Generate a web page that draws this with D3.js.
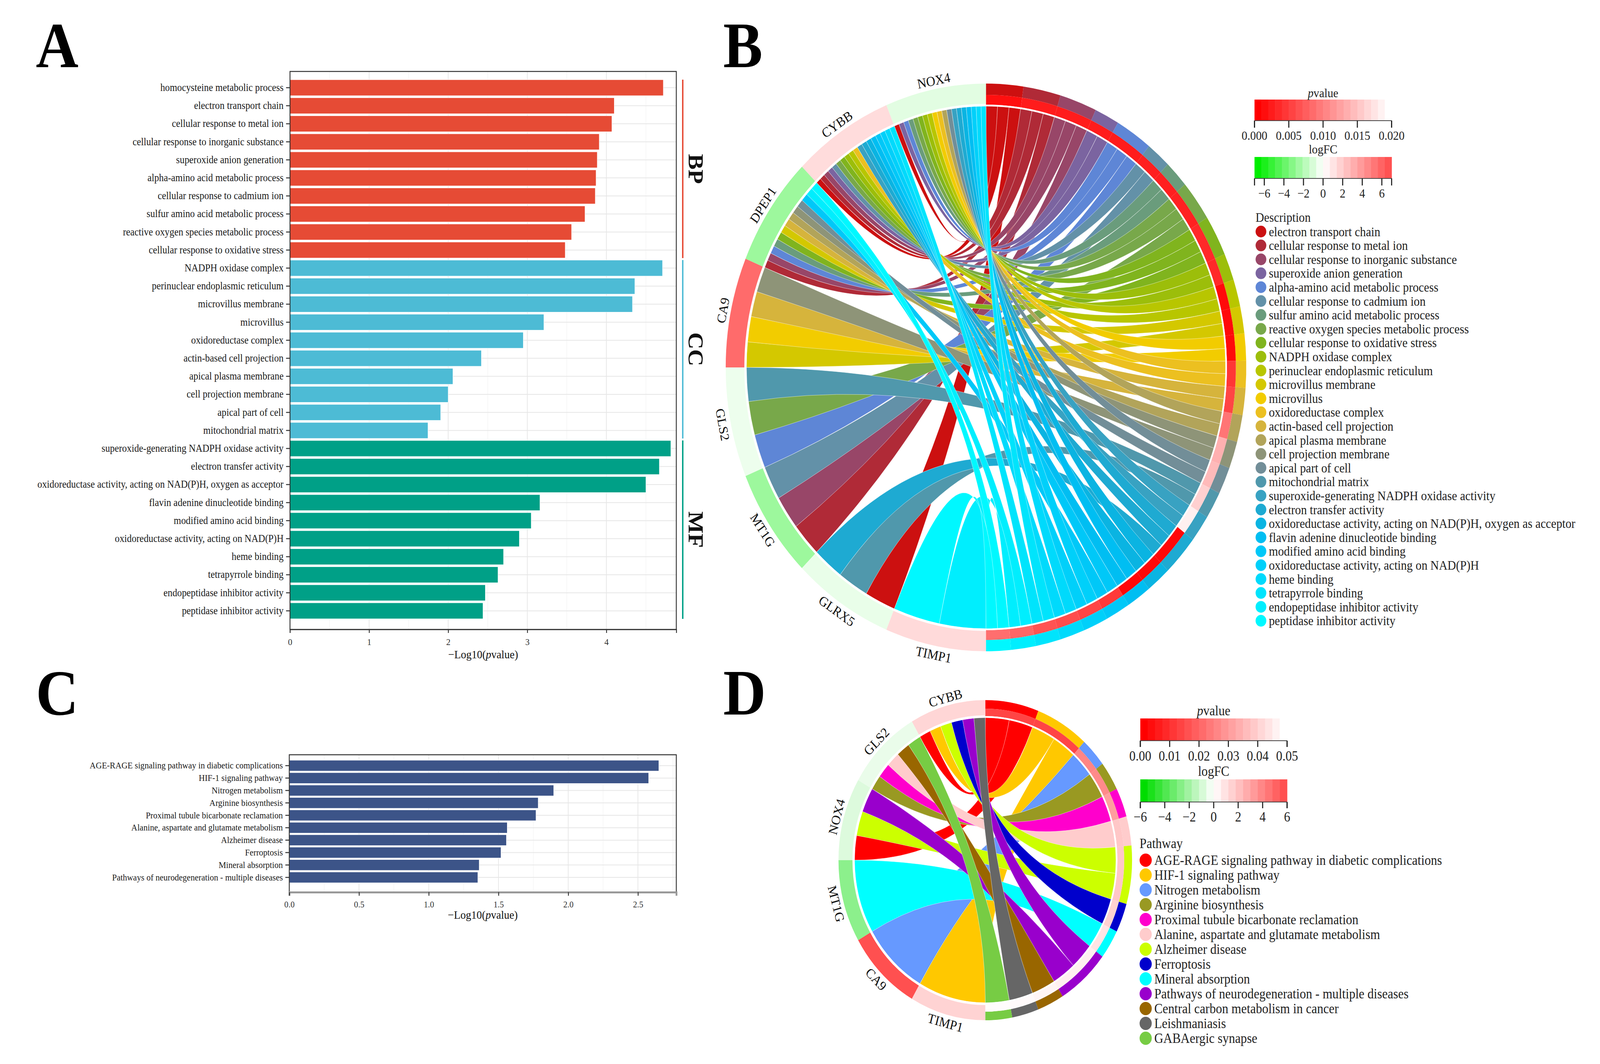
<!DOCTYPE html>
<html>
<head>
<meta charset="utf-8">
<script src="https://cdn.jsdelivr.net/npm/d3@7"></script>
<style>
  html, body { margin: 0; padding: 0; background: #fff; overflow: hidden; }
  svg { display: block; width: 100vw; height: 100vh; }
</style>
</head>
<body>
<svg id="fig" viewBox="0 0 4469 2725" preserveAspectRatio="none"></svg>
<script>
// ---- panel A : GO enrichment bars ----
var goTerms = [
  "homocysteine metabolic process", "electron transport chain", "cellular response to metal ion",
  "cellular response to inorganic substance", "superoxide anion generation", "alpha-amino acid metabolic process",
  "cellular response to cadmium ion", "sulfur amino acid metabolic process", "reactive oxygen species metabolic process",
  "cellular response to oxidative stress", "NADPH oxidase complex", "perinuclear endoplasmic reticulum",
  "microvillus membrane", "microvillus", "oxidoreductase complex", "actin-based cell projection",
  "apical plasma membrane", "cell projection membrane", "apical part of cell", "mitochondrial matrix",
  "superoxide-generating NADPH oxidase activity", "electron transfer activity",
  "oxidoreductase activity, acting on NAD(P)H, oxygen as acceptor", "flavin adenine dinucleotide binding",
  "modified amino acid binding", "oxidoreductase activity, acting on NAD(P)H", "heme binding",
  "tetrapyrrole binding", "endopeptidase inhibitor activity", "peptidase inhibitor activity"
];
var goLog10P = [4.72, 4.10, 4.07, 3.91, 3.885, 3.87, 3.86, 3.73, 3.56, 3.48,
                4.71, 4.36, 4.33, 3.21, 2.95, 2.42, 2.06, 2.00, 1.905, 1.745,
                4.815, 4.67, 4.50, 3.16, 3.05, 2.90, 2.70, 2.63, 2.47, 2.44];
var goOntology = ["BP","BP","BP","BP","BP","BP","BP","BP","BP","BP",
                  "CC","CC","CC","CC","CC","CC","CC","CC","CC","CC",
                  "MF","MF","MF","MF","MF","MF","MF","MF","MF","MF"];
var ontologies = ["BP", "CC", "MF"];
var ontologyColors = ["#E64B35", "#4DBBD5", "#00A087"];
var goTicks = [0, 1, 2, 3, 4];

// ---- panel C : KEGG bars ----
var keggTerms = [
  "AGE-RAGE signaling pathway in diabetic complications", "HIF-1 signaling pathway", "Nitrogen metabolism",
  "Arginine biosynthesis", "Proximal tubule bicarbonate reclamation", "Alanine, aspartate and glutamate metabolism",
  "Alzheimer disease", "Ferroptosis", "Mineral absorption", "Pathways of neurodegeneration - multiple diseases"
];
var keggLog10P = [2.65, 2.577, 1.896, 1.785, 1.769, 1.563, 1.557, 1.518, 1.362, 1.352];
var keggTicks = [0, 0.5, 1.0, 1.5, 2.0, 2.5];

// ---- panel B : GO chord ----
var bGenes = ["NOX4", "CYBB", "DPEP1", "CA9", "GLS2", "MT1G", "GLRX5", "TIMP1"];
var bLogFC = [-0.8, 1.4, -2.7, 6.0, -0.5, -2.7, -0.6, 1.5];
var bTerms = goTerms.slice(1); // the chord uses every GO term but the first
var bTermP = [0.0012, 0.0022, 0.0022, 0.0022, 0.0022, 0.0024, 0.0024, 0.0026, 0.0032, 0.0032,
              0.0008, 0.0008, 0.0008, 0.0042, 0.0054, 0.0092, 0.0138, 0.0146, 0.0163, 0.0188,
              0.0006, 0.0006, 0.0006, 0.0045, 0.0054, 0.0060, 0.0065, 0.0080, 0.0086];
var bTermColors = ["#CC1010","#B02A37","#984668","#7B64A0","#5E86D6","#6391A8","#6A9C7C","#78A84A","#80B41E",
                   "#9CBE0A","#B8C600","#D4C800","#F2CC00","#ECC020","#D6B43C","#B2A45A","#8E9478","#728E98",
                   "#5098AC","#38A2C2","#1EAAD2","#0AB4E2","#00BEF2","#00C8F8","#00D0FA","#00DAFC","#00E4FC",
                   "#00EEFE","#00F8FF"];
var bGeneTerms = [
  [0, 3, 4, 6, 7, 8, 9, 10, 12, 13, 15, 17, 19, 20, 21, 22, 24, 25, 26],
  [0, 1, 2, 3, 5, 7, 8, 9, 10, 13, 19, 20, 21, 22, 23, 24, 25, 26],
  [1, 2, 4, 6, 8, 11, 14, 15, 16, 17, 23, 27, 28],
  [11, 12, 14, 16],
  [4, 7, 18],
  [1, 2, 5],
  [0, 18, 20],
  [27, 28]
];

// ---- panel D : KEGG chord ----
var dGenes = ["CYBB", "GLS2", "NOX4", "MT1G", "CA9", "TIMP1"];
var dLogFC = [1.4, -0.5, -0.8, -2.7, 6.0, 1.5];
var dPathways = keggTerms.concat(["Central carbon metabolism in cancer", "Leishmaniasis", "GABAergic synapse"]);
var dPathwayP = [0.0135, 0.0135, 0.026, 0.027, 0.031, 0.039, 0.039, 0.041, 0.045, 0.047, 0.048, 0.049, 0.0495];
var dPathwayColors = ["#FF0000","#FFC800","#6699FF","#999922","#FF00CC","#FFCCCC","#CCFF00",
                      "#0000CC","#00FFFF","#9900CC","#996600","#666666","#77CC44"];
var dGenePathways = [[0, 1, 6, 7, 9, 11], [3, 4, 5, 10, 12], [0, 6, 9], [8], [2], [1]];

var serif = '"Liberation Serif", "Times New Roman", serif';
var svg = d3.select('#fig').attr('font-family', serif);
svg.append('rect').attr('width', 4469).attr('height', 2725).attr('fill', '#fff');

var pvalTitle = function (sel) {
  sel.append('tspan').attr('font-style', 'italic').text('p');
  sel.append('tspan').text('value');
};

// horizontal bar chart
var drawBars = function (cfg) {
  var g = svg.append('g');
  var x = d3.scaleLinear().domain([0, cfg.xMax]).range([cfg.x0, cfg.x1]);
  var y = d3.scaleBand().domain(cfg.labels).range([cfg.bandTop, cfg.bandBottom]);
  var bh = y.bandwidth() * cfg.barFrac;
  var mid = function (d) { return y(d) + y.bandwidth() / 2; };

  g.selectAll('line.minor').data(cfg.ticks.map(function (t) { return t + cfg.tickStep / 2; })
      .filter(function (t) { return t < cfg.xMax; }))
    .enter().append('line')
    .attr('x1', x).attr('x2', x).attr('y1', cfg.top).attr('y2', cfg.bottom)
    .attr('stroke', '#f4f4f4').attr('stroke-width', 1.5);
  g.selectAll('line.major').data(cfg.ticks.filter(function (t) { return t > 0; }))
    .enter().append('line')
    .attr('x1', x).attr('x2', x).attr('y1', cfg.top).attr('y2', cfg.bottom)
    .attr('stroke', '#e6e6e6').attr('stroke-width', 2);
  g.selectAll('line.hgrid').data(cfg.labels).enter().append('line')
    .attr('x1', cfg.x0).attr('x2', cfg.x1).attr('y1', mid).attr('y2', mid)
    .attr('stroke', '#e6e6e6').attr('stroke-width', 2);

  g.selectAll('rect.bar').data(cfg.values).enter().append('rect')
    .attr('x', x(0))
    .attr('y', function (d, i) { return mid(cfg.labels[i]) - bh / 2; })
    .attr('width', function (d) { return x(d) - x(0); })
    .attr('height', bh)
    .attr('fill', function (d, i) { return cfg.color(i); })
    .attr('stroke', '#fff').attr('stroke-width', 1.2);

  g.append('rect').attr('x', cfg.x0).attr('y', cfg.top)
    .attr('width', cfg.x1 - cfg.x0).attr('height', cfg.bottom - cfg.top)
    .attr('fill', 'none').attr('stroke', '#333').attr('stroke-width', 2.5);

  var ya = g.append('g').attr('transform', 'translate(' + cfg.x0 + ',0)')
    .call(d3.axisLeft(y).tickSize(11).tickPadding(7));
  ya.select('.domain').remove();
  ya.attr('font-family', serif).attr('font-size', cfg.labelSize);
  ya.selectAll('text').attr('fill', '#1a1a1a');
  ya.selectAll('line').attr('stroke', '#333').attr('stroke-width', 2.5);

  var xa = g.append('g').attr('transform', 'translate(0,' + cfg.bottom + ')')
    .call(d3.axisBottom(x).tickValues(cfg.ticks).tickFormat(cfg.fmt).tickSize(9).tickPadding(cfg.tickPad));
  xa.select('.domain').attr('stroke', cfg.axisColor).attr('stroke-width', cfg.axisWidth);
  xa.attr('font-family', serif).attr('font-size', cfg.tickSize);
  xa.selectAll('text').attr('fill', '#333');
  xa.selectAll('line').attr('stroke', '#333').attr('stroke-width', 2.5);

  g.append('text').attr('x', (cfg.x0 + cfg.x1) / 2).attr('y', cfg.titleY)
    .attr('text-anchor', 'middle').attr('font-size', 30).attr('fill', '#111')
    .call(function (t) {
      t.append('tspan').text('\u2212Log10(');
      t.append('tspan').attr('font-style', 'italic').text('p');
      t.append('tspan').text('value)');
    });
  return { x: x, y: y, bh: bh, mid: mid };
};

var goIdx = function (i) { return ontologyColors[ontologies.indexOf(goOntology[i])]; };
var A = drawBars({
  labels: goTerms, values: goLog10P, xMax: 4.884, x0: 810, x1: 1889, top: 183, bottom: 1612,
  bandTop: 201.5, bandBottom: 1587.5, barFrac: 0.89, ticks: goTicks, tickStep: 1,
  fmt: d3.format('d'), labelSize: 26.5, tickSize: 24, tickPad: 14, titleY: 1686,
  axisColor: '#333', axisWidth: 2.5, color: goIdx
});

// ontology strips on the right of A
ontologies.forEach(function (o, k) {
  var members = goTerms.filter(function (t, i) { return goOntology[i] === o; });
  var y0 = A.mid(members[0]) - A.bh / 2, y1 = A.mid(members[members.length - 1]) + A.bh / 2;
  svg.append('line').attr('x1', 1907).attr('x2', 1907).attr('y1', y0).attr('y2', y1)
    .attr('stroke', ontologyColors[k]).attr('stroke-width', 4);
  svg.append('text').attr('transform', 'translate(1924,' + ((y0 + y1) / 2) + ') rotate(90)')
    .attr('text-anchor', 'middle').attr('font-weight', 'bold').attr('font-size', 60)
    .attr('fill', '#111').text(o);
});

drawBars({
  labels: keggTerms, values: keggLog10P, xMax: 2.775, x0: 808, x1: 1889, top: 1933, bottom: 2285,
  bandTop: 1945, bandBottom: 2263, barFrac: 0.877, ticks: keggTicks, tickStep: 0.5,
  fmt: d3.format('.1f'), labelSize: 23.5, tickSize: 23, tickPad: 14, titleY: 2353,
  axisColor: '#999', axisWidth: 5, color: function () { return '#3C5488'; }
});

// chord diagram: genes on the left half, terms on the right half
var drawChord = function (cfg) {
  var g = svg.append('g').attr('transform', 'translate(' + cfg.cx + ',' + cfg.cy + ')');
  var tau = 2 * Math.PI;
  var geneW = Math.PI / cfg.genes.length;
  var links = [];
  cfg.geneTerms.forEach(function (terms, gi) {
    var a0 = tau - (gi + 1) * geneW;
    var list = terms.slice().sort(d3.ascending);
    var s = geneW / list.length;
    list.forEach(function (t, k) {
      links.push({ gene: gi, term: t, source: { startAngle: a0 + k * s, endAngle: a0 + (k + 1) * s } });
    });
  });
  var u = Math.PI / links.length;
  var termArcs = [], cum = 0;
  cfg.terms.forEach(function (name, ti) {
    var members = links.filter(function (l) { return l.term === ti; })
      .sort(function (a, b) { return a.gene - b.gene; });
    members.forEach(function (l, k) {
      l.target = { startAngle: (cum + k) * u, endAngle: (cum + k + 1) * u };
    });
    termArcs.push({ index: ti, startAngle: cum * u, endAngle: (cum + members.length) * u });
    cum += members.length;
  });
  links.sort(function (a, b) { return a.term - b.term || a.gene - b.gene; });

  g.selectAll('path.link').data(links).enter().append('path')
    .attr('d', d3.ribbon().radius(cfg.rChord))
    .attr('fill', function (d) { return cfg.termColors[d.term]; })
    .attr('stroke', '#fff').attr('stroke-width', 0.8).attr('stroke-opacity', 0.8);

  var arcTerm = d3.arc().innerRadius(cfg.rMid).outerRadius(cfg.rOuter);
  var arcP = d3.arc().innerRadius(cfg.rInner).outerRadius(cfg.rMid);
  g.selectAll('path.term').data(termArcs).enter().append('path').attr('d', arcTerm)
    .attr('fill', function (d) { return cfg.termColors[d.index]; });
  g.selectAll('path.pv').data(termArcs).enter().append('path').attr('d', arcP)
    .attr('fill', function (d) { return cfg.pColor(cfg.termP[d.index]); });

  var geneArcs = cfg.genes.map(function (name, gi) {
    return { name: name, fc: cfg.logFC[gi], startAngle: tau - (gi + 1) * geneW, endAngle: tau - gi * geneW };
  });
  g.selectAll('path.gene').data(geneArcs).enter().append('path')
    .attr('d', d3.arc().innerRadius(cfg.rGeneInner).outerRadius(cfg.rOuter))
    .attr('fill', function (d) { return cfg.fcColor(d.fc); });
  // thin white circle between rings and ribbons
  g.append('circle').attr('r', (cfg.rChord + cfg.rInner) / 2).attr('fill', 'none')
    .attr('stroke', '#fff').attr('stroke-width', cfg.rInner - cfg.rChord);

  g.selectAll('text.gl').data(geneArcs).enter().append('text')
    .attr('transform', function (d) {
      var a = (d.startAngle + d.endAngle) / 2;
      var deg = a * 180 / Math.PI;
      var rot = (deg > 90 && deg < 270) ? deg + 180 : deg;
      return 'translate(' + (cfg.rLabel * Math.sin(a)) + ',' + (-cfg.rLabel * Math.cos(a)) + ') rotate(' + rot + ')';
    })
    .attr('dominant-baseline', function (d) {
      var deg = (d.startAngle + d.endAngle) / 2 * 180 / Math.PI;
      return (deg > 90 && deg < 270) ? 'hanging' : 'auto';
    })
    .attr('text-anchor', 'middle').attr('font-size', cfg.labelSize).attr('fill', '#111')
    .text(function (d) { return d.name; });
};

var bP = d3.scaleLinear().domain([0, 0.02]).range(['#ff0000', '#ffffff']).clamp(true);
var bFC = d3.scaleLinear().domain([-7, 0, 7]).range(['#00ee00', '#ffffff', '#ff5252']).clamp(true);
var dP = d3.scaleLinear().domain([0, 0.05]).range(['#ff0000', '#ffffff']).clamp(true);
var dFC = d3.scaleLinear().domain([-6, 0, 6]).range(['#00dd00', '#ffffff', '#ff5050']).clamp(true);

drawChord({
  cx: 2754, cy: 941, rOuter: 727, rMid: 698, rInner: 673, rGeneInner: 675, rChord: 669, rLabel: 737,
  labelSize: 35, genes: bGenes, logFC: bLogFC, terms: bTerms, termP: bTermP, termColors: bTermColors,
  geneTerms: bGeneTerms, pColor: bP, fcColor: bFC
});
drawChord({
  cx: 2752, cy: 2203, rOuter: 410, rMid: 388, rInner: 369, rGeneInner: 371, rChord: 365, rLabel: 418,
  labelSize: 35, genes: dGenes, logFC: dLogFC, terms: dPathways, termP: dPathwayP, termColors: dPathwayColors,
  geneTerms: dGenePathways, pColor: dP, fcColor: dFC
});

// stepped colour bar legend
var drawColorBar = function (cfg) {
  var g = svg.append('g');
  var sx = d3.scaleLinear().domain(cfg.domain).range([cfg.x, cfg.x + cfg.w]);
  var n = cfg.steps, sw = cfg.w / n;
  g.selectAll('rect').data(d3.range(n)).enter().append('rect')
    .attr('x', function (i) { return cfg.x + i * sw; }).attr('y', cfg.y)
    .attr('width', sw + 0.6).attr('height', cfg.h)
    .attr('fill', function (i) { return cfg.color(cfg.domain[0] + (cfg.domain[1] - cfg.domain[0]) * i / (n - 1)); });
  g.append('line').attr('x1', cfg.x).attr('x2', cfg.x + cfg.w)
    .attr('y1', cfg.y + cfg.h).attr('y2', cfg.y + cfg.h).attr('stroke', '#444').attr('stroke-width', 2);
  g.selectAll('line.tk').data(cfg.domain.concat(cfg.ticks)).enter().append('line')
    .attr('x1', sx).attr('x2', sx).attr('y1', cfg.y + cfg.h).attr('y2', cfg.y + cfg.h + cfg.tickLen)
    .attr('stroke', '#222').attr('stroke-width', 3);
  g.selectAll('text.tk').data(cfg.ticks).enter().append('text')
    .attr('x', sx).attr('y', cfg.labelY).attr('text-anchor', 'middle')
    .attr('font-size', cfg.fontSize).attr('fill', '#222').text(cfg.fmt);
  var t = g.append('text').attr('x', cfg.x + cfg.w / 2).attr('y', cfg.titleY)
    .attr('text-anchor', 'middle').attr('font-size', cfg.fontSize).attr('fill', '#222');
  if (cfg.title === 'pvalue') pvalTitle(t); else t.text(cfg.title);
};

var drawKey = function (cfg) {
  var g = svg.append('g');
  g.append('text').attr('x', cfg.x - cfg.r).attr('y', cfg.titleY).attr('font-size', cfg.fontSize)
    .attr('fill', '#222').text(cfg.title);
  g.selectAll('circle').data(cfg.labels).enter().append('circle')
    .attr('cx', cfg.x).attr('cy', function (d, i) { return cfg.y + i * cfg.step; })
    .attr('r', cfg.r).attr('fill', function (d, i) { return cfg.colors[i]; });
  g.selectAll('text.it').data(cfg.labels).enter().append('text')
    .attr('x', cfg.x + cfg.r + 7).attr('y', function (d, i) { return cfg.y + i * cfg.step; })
    .attr('dy', '0.35em').attr('font-size', cfg.fontSize).attr('fill', '#222').text(function (d) { return d; });
};

drawColorBar({ x: 3504, y: 255, w: 383, h: 54, domain: [0, 0.02], steps: 20, color: bP,
  ticks: [0, 0.005, 0.01, 0.015, 0.02], fmt: d3.format('.3f'), tickLen: 18, labelY: 358,
  titleY: 249, title: 'pvalue', fontSize: 32 });
drawColorBar({ x: 3504, y: 402, w: 383, h: 55, domain: [-7, 7], steps: 20, color: bFC,
  ticks: [-6, -4, -2, 0, 2, 4, 6], fmt: d3.format('d'), tickLen: 18, labelY: 506,
  titleY: 393, title: 'logFC', fontSize: 32 });
drawKey({ x: 3522, y: 593, step: 35.6, r: 15, titleY: 568, title: 'Description', fontSize: 33,
  labels: bTerms, colors: bTermColors });

drawColorBar({ x: 3185, y: 1840, w: 410, h: 57, domain: [0, 0.05], steps: 20, color: dP,
  ticks: [0, 0.01, 0.02, 0.03, 0.04, 0.05], fmt: d3.format('.2f'), tickLen: 16, labelY: 1948,
  titleY: 1832, title: 'pvalue', fontSize: 35 });
drawColorBar({ x: 3185, y: 1996, w: 410, h: 58, domain: [-6, 6], steps: 20, color: dFC,
  ticks: [-6, -4, -2, 0, 2, 4, 6], fmt: d3.format('d'), tickLen: 16, labelY: 2104,
  titleY: 1987, title: 'logFC', fontSize: 35 });
drawKey({ x: 3200, y: 2203, step: 38, r: 17, titleY: 2172, title: 'Pathway', fontSize: 35,
  labels: dPathways, colors: dPathwayColors });

// panel letters
[['A', 100, 172], ['B', 2020, 172], ['C', 100, 1830], ['D', 2020, 1830]].forEach(function (p) {
  svg.append('text').attr('x', p[1]).attr('y', p[2]).attr('font-size', 165)
    .attr('font-weight', 'bold').attr('fill', '#000').text(p[0]);
});
</script>
</body>
</html>
